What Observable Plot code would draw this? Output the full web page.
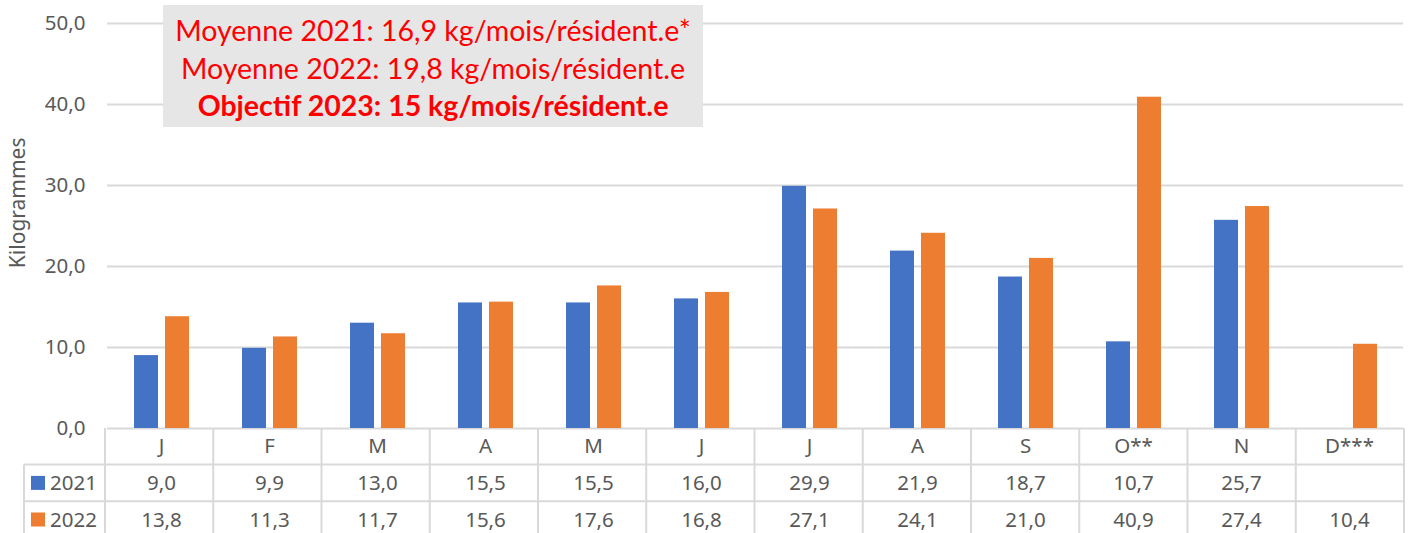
<!DOCTYPE html>
<html><head><meta charset="utf-8">
<script src="https://cdn.jsdelivr.net/npm/d3@7"></script>
<script src="https://cdn.jsdelivr.net/npm/@observablehq/plot@0.6"></script>
<style>
body{margin:0;background:#fff;}
#wrap{position:relative;width:1408px;height:533px;overflow:hidden;}
#note{position:absolute;left:163px;top:5px;width:540px;height:122px;background:#e7e6e6;color:#ff0000;font-family:Lato,"Noto Sans",sans-serif;font-size:28.5px;text-align:center;line-height:37.5px;padding-top:7px;box-sizing:border-box;}
#note b{font-weight:bold;}
</style>
</head><body>
<div id="wrap"></div>
<script>
const months = ["Jan","Feb","Mar","Apr","May","Jun","Jul","Aug","Sep","Oct","Nov","Dec"];
const monthLabels = ["J","F","M","A","M","J","J","A","S","O**","N","D***"];
const series = ["2021","2022"];
const values2021 = [9.0, 9.9, 13.0, 15.5, 15.5, 16.0, 29.9, 21.9, 18.7, 10.7, 25.7, null];
const values2022 = [13.8, 11.3, 11.7, 15.6, 17.6, 16.8, 27.1, 24.1, 21.0, 40.9, 27.4, 10.4];
const yTicks = [0, 10, 20, 30, 40, 50];
const colors = ["#4472c4", "#ed7d31"];
const noteLines = ["Moyenne 2021: 16,9 kg/mois/résident.e*", "Moyenne 2022: 19,8 kg/mois/résident.e", "Objectif 2023: 15 kg/mois/résident.e"];

const fmt = v => v == null ? "" : d3.format(".1f")(v).replace(".", ",");
const bars = months.flatMap((m, i) => [
  {m, s: series[0], v: values2021[i]},
  {m, s: series[1], v: values2022[i]}
]).filter(d => d.v != null);
const rows = months.map((m, i) => ({m, label: monthLabels[i], a: fmt(values2021[i]), b: fmt(values2022[i])}));

const grey = "#595959", lineC = "#d9d9d9", font = "'Noto Sans', sans-serif", fsz = 20.5;
const rowH = 36.6;
const chart = Plot.plot({
  width: 1408, height: 533,
  marginLeft: 105, marginRight: 4, marginTop: 23, marginBottom: 105,
  style: {fontFamily: font, fontSize: fsz + "px", color: grey, background: "#fff"},
  fx: {domain: months, padding: 0, axis: null},
  x: {domain: series, axis: null, paddingInner: 0.24, paddingOuter: 0.86},
  y: {domain: [0, 50], axis: null},
  color: {domain: series, range: colors},
  marks: [
    Plot.ruleY(yTicks, {stroke: lineC, strokeWidth: 2}),
    Plot.axisY(yTicks, {tickSize: 0, tickPadding: 22, tickFormat: fmt, label: null, fill: grey, fontSize: fsz}),
    Plot.barY(bars, {fx: "m", x: "s", y: "v", fill: "s"}),
    Plot.text(rows, {fx: "m", text: "label", frameAnchor: "bottom", lineAnchor: "middle", dy: rowH * 0.5, fill: grey, fontSize: fsz}),
    Plot.text(rows, {fx: "m", text: "a", frameAnchor: "bottom", lineAnchor: "middle", dy: rowH * 1.5, fill: grey, fontSize: fsz}),
    Plot.text(rows, {fx: "m", text: "b", frameAnchor: "bottom", lineAnchor: "middle", dy: rowH * 2.5, fill: grey, fontSize: fsz})
  ]
});
document.getElementById("wrap").appendChild(chart);

// data table lines and legend keys, positioned from Plot's scales
const fs = chart.scale("fx"), ys = chart.scale("y");
const fx = d3.scaleBand().domain(fs.domain).range(fs.range).paddingInner(fs.paddingInner || 0).paddingOuter(fs.paddingOuter || 0).align(fs.align ?? 0.5);
const y = d3.scaleLinear().domain(ys.domain).range(ys.range);
const svg = d3.select(chart);
const y0 = y(0), legendLeft = 24;
const xR = fx(months[months.length - 1]) + fx.bandwidth();
const g = svg.append("g").attr("stroke", lineC).attr("stroke-width", 2);
months.forEach(m => g.append("line").attr("x1", fx(m)).attr("x2", fx(m)).attr("y1", y0).attr("y2", 533));
g.append("line").attr("x1", xR).attr("x2", xR).attr("y1", y0).attr("y2", 533);
g.append("line").attr("x1", legendLeft).attr("x2", legendLeft).attr("y1", y0 + rowH).attr("y2", 533);
[1, 2].forEach(k => g.append("line").attr("x1", legendLeft).attr("x2", xR).attr("y1", y0 + k * rowH).attr("y2", y0 + k * rowH));
series.forEach((s, i) => {
  const cy = y0 + rowH * (i + 1.5);
  svg.append("rect").attr("x", 31).attr("y", cy - 7).attr("width", 14).attr("height", 14).attr("fill", colors[i]);
  svg.append("text").attr("x", 50).attr("y", cy).attr("dy", "0.36em").attr("text-anchor", "start").attr("fill", grey).attr("font-size", fsz).attr("font-family", font).text(s);
});
svg.append("text").attr("transform", `translate(18,${y(27.8)}) rotate(-90)`).attr("dy", "0.35em").attr("text-anchor", "middle").attr("fill", grey).attr("font-size", 21).attr("font-family", font).text("Kilogrammes");

const note = document.createElement("div");
note.id = "note";
note.innerHTML = noteLines.map((t, i) => i === 2 ? `<b>${t}</b>` : t).join("<br>");
document.getElementById("wrap").appendChild(note);
</script>
</body></html>
